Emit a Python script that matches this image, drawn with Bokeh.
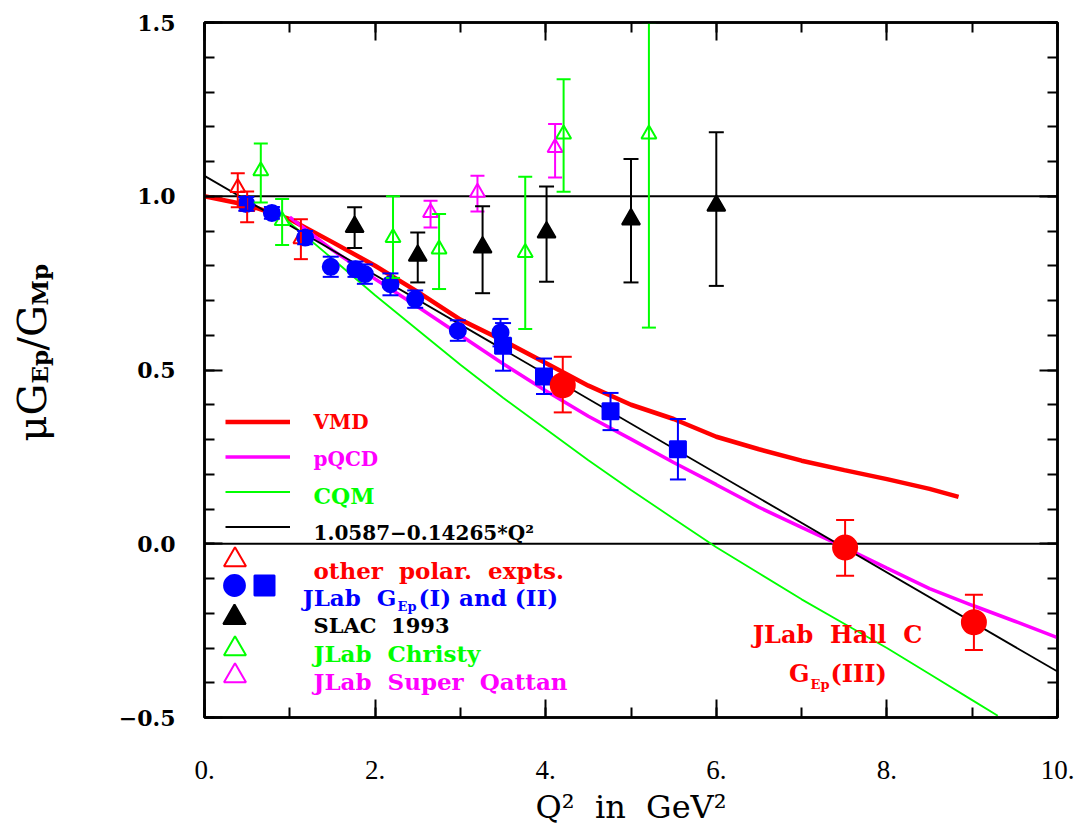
import numpy as np
from bokeh.plotting import figure
from bokeh.layouts import row
from bokeh.models import (Range1d, LinearAxis, SingleIntervalTicker, Span, Whisker, TeeHead,
                          ColumnDataSource, Label, Legend, LegendItem)
from bokeh.embed import file_html
from bokeh.resources import INLINE

# ---------------- data ----------------
x_tick_values = [0, 2, 4, 6, 8, 10]
x_tick_labels = ["0.", "2.", "4.", "6.", "8.", "10."]
y_tick_values = [-0.5, 0, 0.5, 1, 1.5]
y_tick_labels = ["\u22120.5", "0.0", "0.5", "1.0", "1.5"]

ref_lines = [1.0, 0.0]

vmd_q2 = [0.0, 0.5, 1.0, 1.5, 2.0, 2.5, 3.0, 3.5, 4.0, 4.5, 5.0, 5.5, 6.0, 6.5, 7.0, 7.5, 8.0, 8.5, 8.84]
vmd_r = [1.0, 0.975, 0.934, 0.868, 0.80, 0.725, 0.645, 0.585, 0.52, 0.455, 0.40, 0.359, 0.308, 0.272, 0.239, 0.212, 0.186, 0.158, 0.135]

pqcd_q2 = [1.0, 1.5, 2.0, 2.5, 3.0, 3.5, 4.0, 4.5, 5.0, 5.5, 6.0, 6.5, 7.0, 7.5, 8.0, 8.5, 9.0, 9.5, 10.0]
pqcd_r = [0.94, 0.845, 0.762, 0.682, 0.600, 0.518, 0.44, 0.367, 0.301, 0.234, 0.17, 0.105, 0.047, -0.01, -0.07, -0.129, -0.177, -0.223, -0.27]

cqm_q2 = [0.97, 1.5, 2.0, 2.5, 3.0, 3.5, 4.0, 4.5, 5.0, 5.5, 6.0, 6.5, 7.0, 7.5, 8.0, 8.5, 9.0, 9.3]
cqm_r = [0.93, 0.82, 0.715, 0.615, 0.515, 0.42, 0.33, 0.24, 0.155, 0.072, -0.01, -0.085, -0.16, -0.23, -0.30, -0.375, -0.45, -0.495]

fit_q2 = [0.0, 10.0]
fit_r = [1.0587, -0.3678]

other_q2 = [0.39, 0.50, 1.13]
other_r = [1.025, 0.97, 0.877]
other_lo = [0.968, 0.925, 0.819]
other_hi = [1.066, 1.014, 0.934]

jl1_q2 = [0.49, 0.79, 1.18, 1.48, 1.77, 1.88, 2.18, 2.47, 2.97, 3.47]
jl1_r = [0.978, 0.952, 0.881, 0.797, 0.790, 0.776, 0.747, 0.704, 0.613, 0.608]
jl1_lo = [0.958, 0.935, 0.862, 0.768, 0.768, 0.748, 0.715, 0.679, 0.584, 0.568]
jl1_hi = [0.998, 0.969, 0.900, 0.826, 0.812, 0.804, 0.778, 0.729, 0.643, 0.647]

jl2_q2 = [3.50, 3.98, 4.76, 5.55]
jl2_r = [0.570, 0.481, 0.381, 0.272]
jl2_lo = [0.498, 0.431, 0.327, 0.185]
jl2_hi = [0.635, 0.533, 0.434, 0.359]

hallc_q2 = [4.20, 7.51, 9.02]
hallc_r = [0.456, -0.011, -0.226]
hallc_lo = [0.378, -0.092, -0.306]
hallc_hi = [0.538, 0.068, -0.147]

slac_q2 = [1.76, 2.50, 3.26, 4.01, 5.0, 6.0]
slac_r = [0.912, 0.829, 0.853, 0.896, 0.934, 0.973]
slac_lo = [0.851, 0.752, 0.721, 0.754, 0.752, 0.742]
slac_hi = [0.968, 0.896, 0.971, 1.028, 1.107, 1.184]

christy_q2 = [0.66, 0.91, 2.21, 2.75, 3.76, 4.21, 5.21]
christy_r = [1.073, 0.930, 0.881, 0.848, 0.838, 1.179, 1.179]
christy_lo = [0.982, 0.860, 0.765, 0.733, 0.618, 1.013, 0.622]
christy_hi = [1.152, 0.992, 1.000, 0.949, 1.056, 1.337, 1.5]

qattan_q2 = [2.65, 3.20, 4.11]
qattan_r = [0.953, 1.011, 1.140]
qattan_lo = [0.910, 0.956, 1.054]
qattan_hi = [0.987, 1.059, 1.208]

# ---------------- styling / layout ----------------
RED, MAG, GRN, BLU, BLK = "#ff0000", "#ff00ff", "#00ff00", "#0000ff", "#000000"
SERIF = "DejaVu Serif"
SP2 = "\u00a0 "             # a visibly doubled word gap
LAB_W = 100                 # width of the strip that holds the y-axis title
FX0, FY0 = 204, 717         # page position of the main frame's bottom-left corner
PAGE_H = 829

p = figure(frame_width=853, frame_height=695,
           x_range=Range1d(0, 10), y_range=Range1d(-0.5, 1.5),
           output_backend="svg", toolbar_location=None,
           min_border_left=FX0 - LAB_W, min_border_right=22, min_border_top=22, min_border_bottom=100,
           background_fill_color="white", border_fill_color="white")
p.grid.visible = False
p.outline_line_color = BLK
p.outline_line_width = 2.5


def style_axis(ax, show_labels):
    ax.axis_line_width = 2.5
    ax.axis_line_color = BLK
    ax.major_tick_in = 18
    ax.major_tick_out = 0
    ax.minor_tick_in = 10
    ax.minor_tick_out = 0
    ax.major_tick_line_width = 2
    ax.minor_tick_line_width = 2
    ax.major_tick_line_color = BLK
    ax.minor_tick_line_color = BLK
    if not show_labels:
        ax.major_label_text_alpha = 0
        ax.major_label_text_font_size = "1px"
        ax.major_label_standoff = 0


xb = p.xaxis[0]
xb.ticker = SingleIntervalTicker(interval=2, num_minor_ticks=2)
xb.major_label_overrides = dict(zip(x_tick_values, x_tick_labels))
xb.major_label_text_font = "Liberation Serif"
xb.major_label_text_font_size = "27px"
xb.major_label_text_color = BLK
xb.major_label_standoff = 43
xb.axis_label = "Q\u00b2" + SP2 + "in" + SP2 + "GeV\u00b2"
xb.axis_label_text_font = SERIF
xb.axis_label_text_font_style = "normal"
xb.axis_label_text_font_size = "32px"
xb.axis_label_text_color = BLK
xb.axis_label_standoff = 6
style_axis(xb, True)

yl = p.yaxis[0]
yl.ticker = SingleIntervalTicker(interval=0.5, num_minor_ticks=5)
yl.major_label_overrides = dict(zip(y_tick_values, y_tick_labels))
yl.major_label_text_font = SERIF
yl.major_label_text_font_style = "bold"
yl.major_label_text_font_size = "22px"
yl.major_label_text_color = BLK
yl.major_label_standoff = 29
style_axis(yl, True)

xt = LinearAxis(ticker=SingleIntervalTicker(interval=2, num_minor_ticks=2))
style_axis(xt, False)
p.add_layout(xt, "above")
yr = LinearAxis(ticker=SingleIntervalTicker(interval=0.5, num_minor_ticks=5))
style_axis(yr, False)
p.add_layout(yr, "right")

for v in ref_lines:
    p.add_layout(Span(location=v, dimension="width", line_color=BLK, line_width=2.2, level="underlay"))

# ---------------- curves ----------------
r_vmd = p.line(vmd_q2, vmd_r, line_color=RED, line_width=4.5)
r_pqcd = p.line(pqcd_q2, pqcd_r, line_color=MAG, line_width=3.5)
r_cqm = p.line(cqm_q2, cqm_r, line_color=GRN, line_width=1.8)
r_fit = p.line(fit_q2, fit_r, line_color=BLK, line_width=1.8)


# ---------------- data points with error bars ----------------
def points(q2, r, lo, hi, marker, size, color, fill, cap):
    src = ColumnDataSource(dict(x=q2, y=r, lo=lo, hi=hi))
    p.add_layout(Whisker(source=src, base="x", upper="hi", lower="lo",
                         line_color=color, line_width=2, level="glyph",
                         upper_head=TeeHead(size=cap, line_color=color, line_width=2),
                         lower_head=TeeHead(size=cap, line_color=color, line_width=2)))
    return p.scatter("x", "y", source=src, marker=marker, size=size,
                     line_color=color, fill_color=fill, line_width=2)


r_christy = points(christy_q2, christy_r, christy_lo, christy_hi, "triangle", 15, GRN, "white", 14)
r_qattan = points(qattan_q2, qattan_r, qattan_lo, qattan_hi, "triangle", 15, MAG, "white", 14)
r_slac = points(slac_q2, slac_r, slac_lo, slac_hi, "triangle", 18, BLK, BLK, 15)
r_other = points(other_q2, other_r, other_lo, other_hi, "triangle", 15, RED, "white", 14)
r_jl1 = points(jl1_q2, jl1_r, jl1_lo, jl1_hi, "circle", 16, BLU, BLU, 16)
r_jl2 = points(jl2_q2, jl2_r, jl2_lo, jl2_hi, "square", 16, BLU, BLU, 16)
r_hallc = points(hallc_q2, hallc_r, hallc_lo, hallc_hi, "circle", 24, RED, RED, 18)


# ---------------- legend symbols (Bokeh Legend objects; texts are drawn separately) ----------------
def legend_box(renderers, left, top, gw, gh):
    n = len(renderers)
    lg = Legend(items=[LegendItem(label=" ", renderers=[r]) for r in renderers],
                location=(left - FX0, FY0 - (top + n * gh)),
                glyph_width=gw, glyph_height=gh, spacing=0, padding=0, margin=0,
                label_standoff=0, label_width=0, label_height=0,
                label_text_font_size="1px", label_text_alpha=0,
                border_line_alpha=0, background_fill_alpha=0)
    p.add_layout(lg)


legend_box([r_vmd, r_pqcd, r_cqm, r_fit], 225, 404, 65, 35)
for rend, cx, cy, g in [(r_other, 234, 559, 55), (r_jl1, 234, 585, 52), (r_jl2, 264, 585, 50),
                        (r_slac, 234, 617, 56), (r_christy, 234, 648, 55), (r_qattan, 234, 675.5, 55)]:
    legend_box([rend], cx - g / 2, cy - g / 2, g, g)


# ---------------- texts ----------------
def text(fig, ox, oy, px, py, s, color=BLK, size=23, bold=True, align="left",
         baseline="alphabetic", font=SERIF, angle=0.0):
    fig.add_layout(Label(x=px - ox, y=oy - py, x_units="screen", y_units="screen",
                         text=s, text_color=color, text_font=font,
                         text_font_size=f"{size}px",
                         text_font_style="bold" if bold else "normal",
                         text_align=align, text_baseline=baseline, angle=angle))


def ptext(*a, **k):
    text(p, FX0, FY0, *a, **k)


ptext(313, 421.7, "VMD", RED, size=20)
ptext(313, 458, "pQCD", MAG, size=20)
ptext(313, 495, "CQM", GRN, size=22)
ptext(313, 532, "1.0587\u22120.14265*Q\u00b2", BLK, size=20)
ptext(313, 570, "other" + SP2 + "polar." + SP2 + "expts.", RED)
ptext(396, 597, "JLab" + SP2 + "G", BLU, align="right")
ptext(397, 606, "Ep", BLU, size=13)
ptext(418, 597, "(I) and (II)", BLU)
ptext(313, 625, "SLAC" + SP2 + "1993", BLK, size=21)
ptext(313, 652.7, "JLab" + SP2 + "Christy", GRN)
ptext(313, 680.7, "JLab" + SP2 + "Super" + SP2 + "Qattan", MAG)

ptext(837, 634, "JLab" + SP2 + "Hall" + SP2 + "C", RED, size=24, align="center")
ptext(809, 673, "G", RED, size=24, align="right")
ptext(810, 684, "Ep", RED, size=13)
ptext(830, 673, "(III)", RED, size=24)

# ---------------- y-axis title strip (left of the main plot) ----------------
# Bokeh aligns this strip's frame with the main frame, so positions are frame-relative.
lf = figure(width=LAB_W, height=PAGE_H, x_range=Range1d(0, LAB_W), y_range=Range1d(0, PAGE_H),
            output_backend="svg", toolbar_location=None, min_border=0,
            x_axis_location=None, y_axis_location=None,
            background_fill_color="white", border_fill_color="white")
lf.outline_line_color = None
lf.grid.visible = False

LX0 = 27   # measured horizontal offset of the strip's frame


def ltext(*a, **k):
    text(lf, LX0, FY0, *a, **k)


A = np.pi / 2
ltext(58, 440, "\u03bcG", BLK, size=40, bold=False, angle=A)
ltext(66, 382, "Ep", BLK, size=23, bold=True, angle=A)
ltext(58, 349, "/G", BLK, size=40, bold=False, angle=A)
ltext(66, 304, "Mp", BLK, size=23, bold=True, angle=A)

layout = row(lf, p)
open("out.html", "w").write(file_html(layout, INLINE))
